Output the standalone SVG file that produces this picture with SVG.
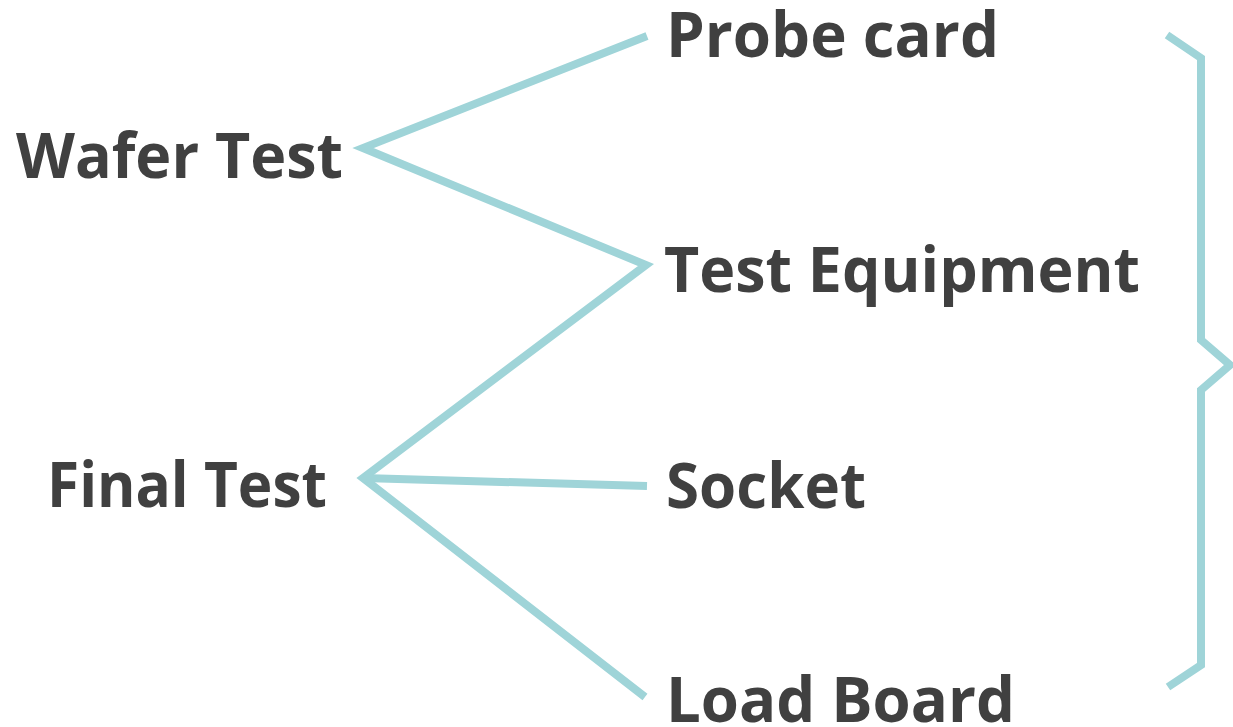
<svg xmlns="http://www.w3.org/2000/svg" width="1233" height="727" viewBox="0 0 1233 727">
<style>
.lbl{font-family:"Open Sans","Liberation Sans",sans-serif;font-weight:bold;font-size:63px;fill:#404040}
.ln{stroke:#9fd4d8;stroke-width:8;fill:none;stroke-linejoin:miter;stroke-linecap:butt}
</style>
<rect width="1233" height="727" fill="#ffffff"/>
<g id="connectors">
<polyline class="ln" points="647,36 363,148 646,265 363,478 645,697"/>
<line class="ln" x1="363" y1="478" x2="647" y2="486"/>
</g>
<g id="brace">
<polyline class="ln" points="1167,35 1201,58 1201,340 1230,365 1201,390 1201,665 1168,687"/>
</g>
<g id="wafer-test"><text class="lbl" x="16" y="178" textLength="327" lengthAdjust="spacingAndGlyphs">Wafer Test</text></g>
<g id="final-test"><text class="lbl" x="47" y="507" textLength="280" lengthAdjust="spacingAndGlyphs">Final Test</text></g>
<g id="probe-card"><text class="lbl" x="666" y="57" textLength="333" lengthAdjust="spacingAndGlyphs">Probe card</text></g>
<g id="test-equipment"><text class="lbl" x="664" y="292" textLength="476" lengthAdjust="spacingAndGlyphs">Test Equipment</text></g>
<g id="socket"><text class="lbl" x="666" y="508" textLength="200" lengthAdjust="spacingAndGlyphs">Socket</text></g>
<g id="load-board"><text class="lbl" x="666" y="722" textLength="349" lengthAdjust="spacingAndGlyphs">Load Board</text></g>
</svg>
